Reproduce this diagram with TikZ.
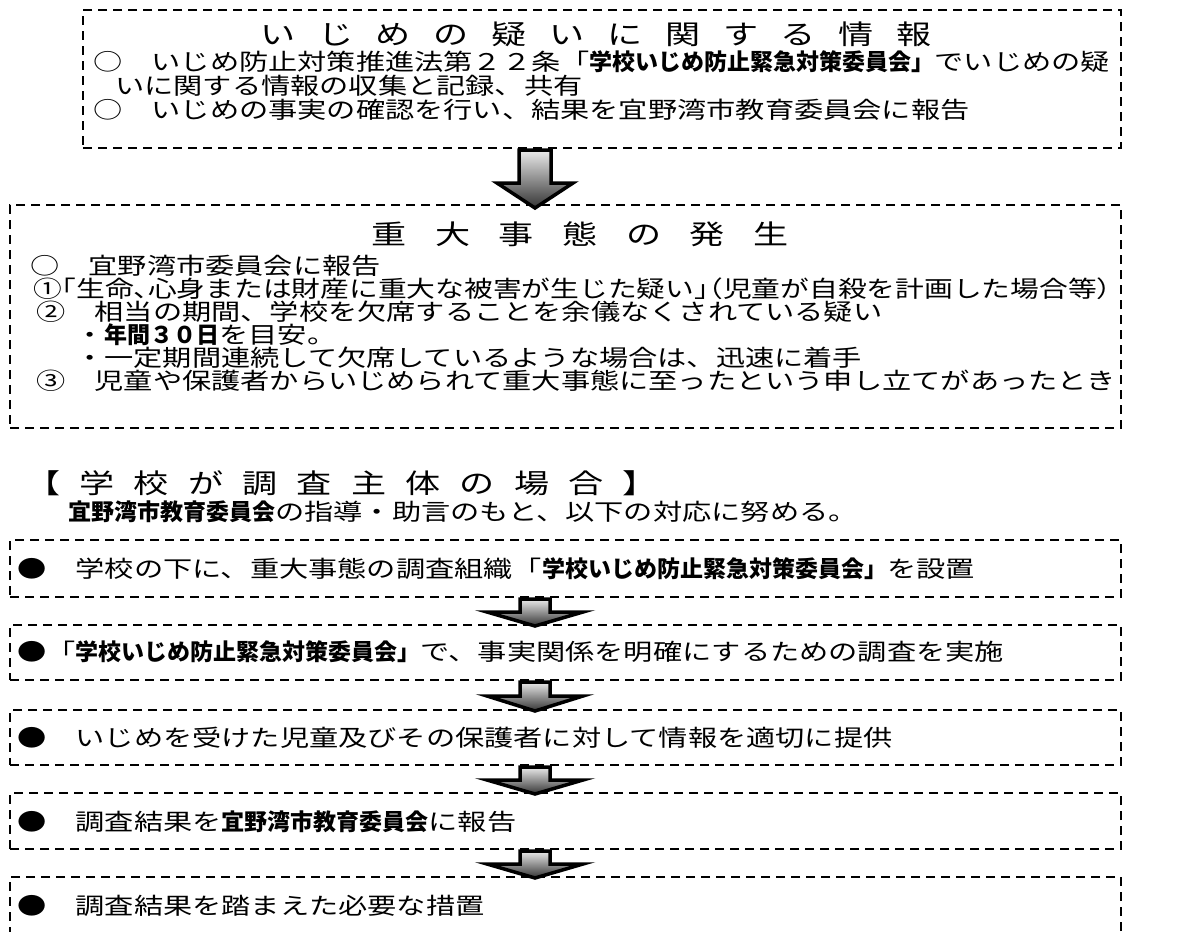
\documentclass[tikz,border=0pt]{standalone}
\usepackage{fontspec}
\usepackage{graphicx}
\setmainfont{Noto Sans CJK JP}
\newfontfamily\jphalt[RawFeature=+halt]{Noto Sans CJK JP}
\newcommand\rs{1.27}
\newcommand\R[1]{\scalebox{\rs}[1]{#1}}
\newcommand\B[1]{{\bfseries #1}}
\newcommand\Hh[1]{\scalebox{\rs}[1]{{\jphalt #1}}}
\makeatletter
\newcommand\spreadtext[2]{\@tempswafalse\@tfor\sp@c:=#2\do{\if@tempswa\hskip#1\relax\fi\@tempswatrue\sp@c}}
\makeatother
\newcommand\blockarrow[6]{%
  \shadedraw[arrowst] ({#1-#3},#2) -- ({#1+#3},#2) -- ({#1+#3},#4) -- ({#1+#5},#4) -- (#1,#6) -- ({#1-#5},#4) -- ({#1-#3},#4) -- cycle;}
\begin{document}
\begin{tikzpicture}[x=1pt,y=-1pt,
  dbox/.style={draw, line width=1.8pt, dash pattern=on 9pt off 6pt, inner sep=0pt},
  txt/.style={anchor=west, inner sep=0pt, font=\fontsize{23}{23}\selectfont},
  ttl/.style={anchor=center, inner sep=0pt, font=\fontsize{27}{27}\selectfont},
  arrowst/.style={line width=3.5pt, draw=black, top color=black!8, bottom color=black!80, line join=miter}]
\useasboundingbox (0,0) rectangle (1187,932);
% boxes
\node[dbox, minimum width=1038, minimum height=138] (box1) at (602,79) {};
\node[dbox, minimum width=1111, minimum height=223] (box2) at (565.5,316.5) {};
\node[dbox, minimum width=1111, minimum height=57] (boxA) at (565.5,568.5) {};
\node[dbox, minimum width=1111, minimum height=55] (boxB) at (565.5,652.5) {};
\node[dbox, minimum width=1111, minimum height=55] (boxC) at (565.5,737.5) {};
\node[dbox, minimum width=1111, minimum height=56] (boxD) at (565.5,821) {};
\node[dbox, minimum width=1111, minimum height=83] (boxE) at (565.5,918.5) {};
% box 1 text
\node[ttl] (title1) at (596,34) {\scalebox{1.3}[1]{\spreadtext{17.5pt}{いじめの疑いに関する情報}}};
\node[txt] (t1a) at (93,62) {\R{○　いじめ防止対策推進法第２２条「}\B{学校いじめ防止緊急対策委員会」}\R{でいじめの疑}};
\node[txt] (t1b) at (115,86) {\R{いに関する情報の収集と記録、共有}};
\node[txt] (t1c) at (93,110) {\R{○　いじめの事実の確認を行い、結果を宜野湾市教育委員会に報告}};
% box 2 text
\node[ttl] (title2) at (580,234) {\scalebox{1.3}[1]{\spreadtext{22pt}{重大事態の発生}}};
\node[txt] (t2a) at (30,266) {\R{○　宜野湾市委員会に報告}};
\node[txt] (t2b) at (33,289) {\renewcommand\rs{1.25}\R{①}\Hh{「}\R{生命}\Hh{、}\R{心身または財産に重大な被害が生じた疑い}\Hh{」（}\R{児童が自殺を計画した場合等}\Hh{）}};
\node[txt] (t2c) at (36,312) {\R{②　相当の期間、学校を欠席することを余儀なくされている疑い}};
\node[txt] (t2d) at (75,335) {\R{・}\B{年間３０日}\R{を目安。}};
\node[txt] (t2e) at (75,358) {\R{・一定期間連続して欠席しているような場合は、迅速に着手}};
\node[txt] (t2f) at (36,381) {\R{③　児童や保護者からいじめられて重大事態に至ったという申し立てがあったとき}};
% heading
\node[ttl, anchor=west] (h1) at (25,483) {\scalebox{1.3}[1]{\spreadtext{14.8pt}{【学校が調査主体の場合】}}};
\node[txt] (h2) at (68,512) {\B{宜野湾市教育委員会}\R{の指導・助言のもと、以下の対応に努める。}};
% step texts
\node[txt] (ta) at (17,569) {\R{●　学校の下に、重大事態の調査組織「}\B{学校いじめ防止緊急対策委員会」}\R{を設置}};
\node[txt] (tb) at (17,652) {\R{●「}\B{学校いじめ防止緊急対策委員会」}\R{で、事実関係を明確にするための調査を実施}};
\node[txt] (tc) at (17,738) {\R{●　いじめを受けた児童及びその保護者に対して情報を適切に提供}};
\node[txt] (td) at (17,822) {\R{●　調査結果を}\B{宜野湾市教育委員会}\R{に報告}};
\node[txt] (te) at (17,906) {\R{●　調査結果を踏まえた必要な措置}};
% arrows
\blockarrow{535}{150}{16}{183}{38}{208}
\blockarrow{535}{599}{15}{612}{48}{626}
\blockarrow{535}{682}{15}{696}{48}{711}
\blockarrow{535}{767}{15}{780}{48}{794}
\blockarrow{535}{851}{15}{864}{48}{878}
\end{tikzpicture}
\end{document}
